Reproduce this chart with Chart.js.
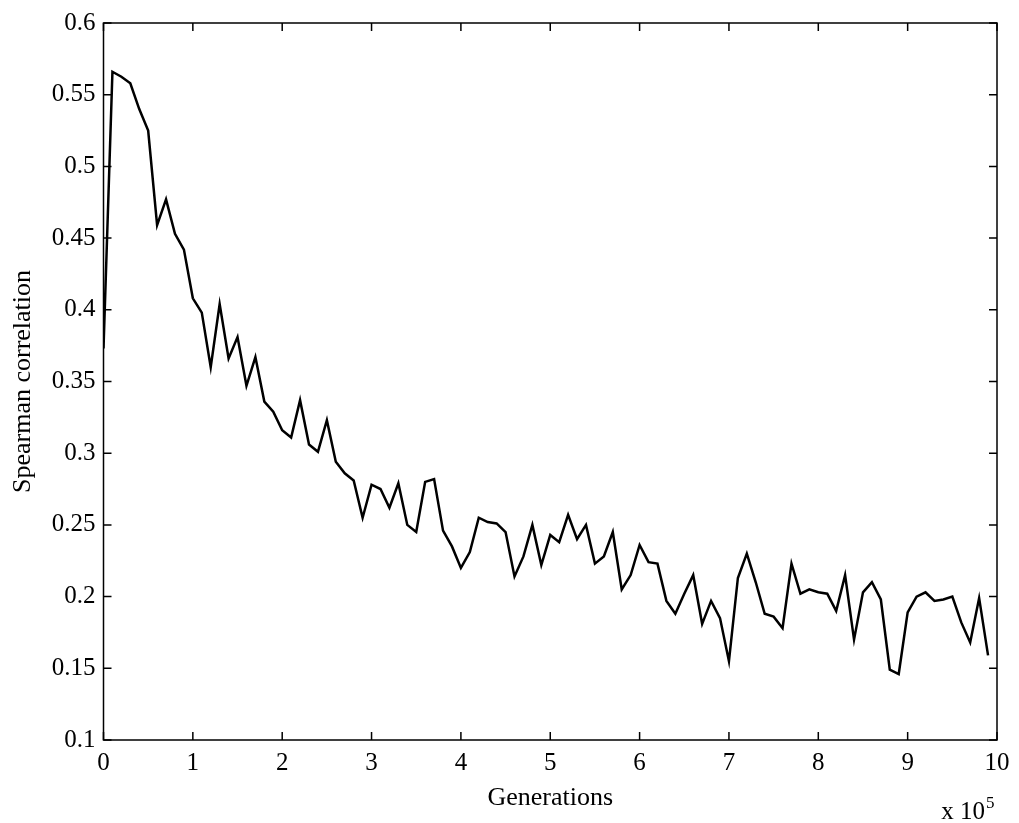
<!DOCTYPE html>
<html>
<head>
<meta charset="utf-8">
<script src="https://cdn.jsdelivr.net/npm/chart.js@4"></script>
<style>
  html, body { margin: 0; padding: 0; background: #fff; }
  #wrap { width: 1019px; height: 823px; }
</style>
</head>
<body>
<div id="wrap"><canvas id="grafico" width="1019" height="823"></canvas></div>
<script>
// generaciones en unidades de 10^5
let generaciones = [
    0, 0.1, 0.2, 0.3, 0.4, 0.5, 0.6, 0.7, 0.8, 0.9,
    1, 1.1, 1.2, 1.3, 1.4, 1.5, 1.6, 1.7, 1.8, 1.9,
    2, 2.1, 2.2, 2.3, 2.4, 2.5, 2.6, 2.7, 2.8, 2.9,
    3, 3.1, 3.2, 3.3, 3.4, 3.5, 3.6, 3.7, 3.8, 3.9,
    4, 4.1, 4.2, 4.3, 4.4, 4.5, 4.6, 4.7, 4.8, 4.9,
    5, 5.1, 5.2, 5.3, 5.4, 5.5, 5.6, 5.7, 5.8, 5.9,
    6, 6.1, 6.2, 6.3, 6.4, 6.5, 6.6, 6.7, 6.8, 6.9,
    7, 7.1, 7.2, 7.3, 7.4, 7.5, 7.6, 7.7, 7.8, 7.9,
    8, 8.1, 8.2, 8.3, 8.4, 8.5, 8.6, 8.7, 8.8, 8.9,
    9, 9.1, 9.2, 9.3, 9.4, 9.5, 9.6, 9.7, 9.8, 9.9
]
let correlacion = [
    0.373, 0.566, 0.5625, 0.558, 0.540, 0.525, 0.459, 0.477, 0.453, 0.442,
    0.408, 0.398, 0.360, 0.404, 0.366, 0.381, 0.347, 0.367, 0.336, 0.329,
    0.316, 0.311, 0.337, 0.306, 0.301, 0.323, 0.294, 0.286, 0.281, 0.255,
    0.278, 0.275, 0.262, 0.279, 0.250, 0.245, 0.280, 0.282, 0.246, 0.235,
    0.220, 0.231, 0.255, 0.252, 0.251, 0.245, 0.214, 0.228, 0.250, 0.222,
    0.243, 0.238, 0.257, 0.240, 0.250, 0.223, 0.228, 0.245, 0.205, 0.215,
    0.236, 0.224, 0.223, 0.197, 0.188, 0.202, 0.215, 0.181, 0.197, 0.185,
    0.155, 0.213, 0.230, 0.210, 0.188, 0.186, 0.178, 0.223, 0.202, 0.205,
    0.203, 0.202, 0.190, 0.215, 0.170, 0.203, 0.210, 0.198, 0.149, 0.146,
    0.189, 0.200, 0.203, 0.197, 0.198, 0.200, 0.182, 0.168, 0.199, 0.159
]
let ticksX = [0, 1, 2, 3, 4, 5, 6, 7, 8, 9, 10]
let ticksY = [0.1, 0.15, 0.2, 0.25, 0.3, 0.35, 0.4, 0.45, 0.5, 0.55, 0.6]
let tituloX = 'Generations'
let tituloY = 'Spearman correlation'

const fuente = 'Liberation Serif'

// marco tipo matlab con ticks hacia adentro
const marco = {
    id: 'marco',
    afterDraw(chart) {
        const ctx = chart.ctx
        const a = chart.chartArea
        const sx = chart.scales.x
        const sy = chart.scales.y
        const largo = 8
        ctx.save()
        ctx.strokeStyle = '#000'
        ctx.lineWidth = 1.5
        ctx.strokeRect(a.left, a.top, a.right - a.left, a.bottom - a.top)
        ctx.beginPath()
        ticksX.forEach(v => {
            let px = sx.getPixelForValue(v)
            ctx.moveTo(px, a.bottom); ctx.lineTo(px, a.bottom - largo)
            ctx.moveTo(px, a.top); ctx.lineTo(px, a.top + largo)
        })
        ticksY.forEach(v => {
            let py = sy.getPixelForValue(v)
            ctx.moveTo(a.left, py); ctx.lineTo(a.left + largo, py)
            ctx.moveTo(a.right, py); ctx.lineTo(a.right - largo, py)
        })
        ctx.stroke()
        // x 10^5
        ctx.fillStyle = '#000'
        ctx.textBaseline = 'alphabetic'
        ctx.textAlign = 'right'
        ctx.font = '25px "' + fuente + '"'
        ctx.fillText('x 10', 985, 819)
        ctx.textAlign = 'left'
        ctx.font = '17px "' + fuente + '"'
        ctx.fillText('5', 986, 808)
        ctx.restore()
    }
}

const data = {
    labels: generaciones,
    datasets: [{
        data: generaciones.map((g, i) => ({ x: g, y: correlacion[i] })),
        borderColor: '#000',
        borderWidth: 2.5,
        pointRadius: 0,
        tension: 0,
        fill: false
    }]
}

const config = {
    type: 'line',
    data: data,
    options: {
        responsive: false,
        animation: false,
        layout: { padding: { left: 0, top: 20, right: 22, bottom: 0 } },
        plugins: {
            legend: { display: false },
            tooltip: { enabled: false },
            title: { display: false }
        },
        scales: {
            x: {
                type: 'linear',
                min: 0,
                max: 10,
                afterFit: s => { s.height = 83 },
                afterBuildTicks: s => { s.ticks = ticksX.map(v => ({ value: v })) },
                grid: { display: false, drawTicks: false },
                border: { display: false },
                ticks: {
                    color: '#000',
                    padding: 8,
                    maxRotation: 0,
                    autoSkip: false,
                    font: { family: fuente, size: 25 },
                    callback: v => String(v)
                },
                title: {
                    display: true,
                    text: tituloX,
                    color: '#000',
                    font: { family: fuente, size: 26 },
                    padding: { top: 0, bottom: 9 }
                }
            },
            y: {
                type: 'linear',
                min: 0.1,
                max: 0.6,
                afterFit: s => { s.width = 103.5 },
                afterBuildTicks: s => { s.ticks = ticksY.map(v => ({ value: v })) },
                grid: { display: false, drawTicks: false },
                border: { display: false },
                ticks: {
                    color: '#000',
                    padding: 8,
                    autoSkip: false,
                    font: { family: fuente, size: 25 },
                    callback: v => String(+v.toFixed(2))
                },
                title: {
                    display: true,
                    text: tituloY,
                    color: '#000',
                    font: { family: fuente, size: 26 },
                    padding: { top: 8, bottom: 0 }
                }
            }
        }
    },
    plugins: [marco]
}

let miGrafico = new Chart(document.getElementById('grafico'), config)
</script>
</body>
</html>
